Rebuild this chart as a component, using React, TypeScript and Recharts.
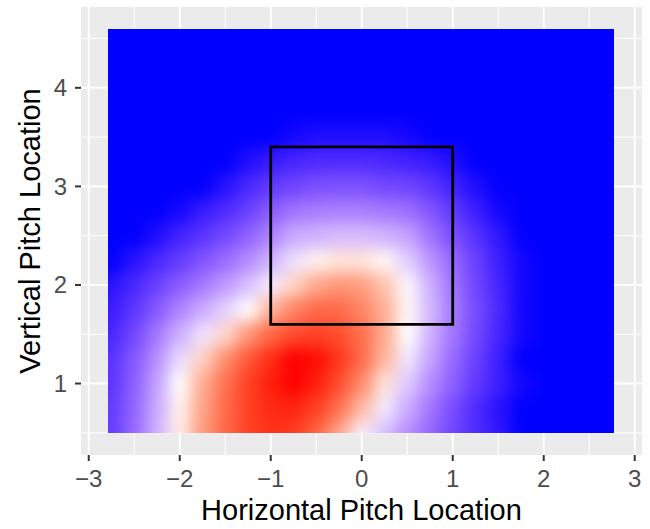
import React from "react";
import {
  ScatterChart,
  Scatter,
  XAxis,
  YAxis,
  CartesianGrid,
  ReferenceArea,
  Label,
} from "recharts";

// raster cell centres (feet)
const xCols = [
  -2.75, -2.5, -2.25, -2, -1.75, -1.5, -1.25, -1, -0.75, -0.5, -0.25, 0, 0.25,
  0.5, 0.75, 1, 1.25, 1.5, 1.75, 2, 2.25, 2.5, 2.75,
];
const yRows = [
  4.5, 4.25, 4, 3.75, 3.5, 3.25, 3, 2.75, 2.5, 2.25, 2, 1.75, 1.5, 1.25, 1,
  0.75, 0.5,
];
const rasterX = [-2.79, 2.775];
const rasterY = [0.495, 4.595];
const halfCell = 0.125;

// fill level per cell, -1 = blue, 0 = white, 1 = red (rows top to bottom)
const levels: number[][] = [
  [-1, -1, -1, -1, -1, -1, -1, -1, -1, -1, -1, -1, -1, -1, -1, -1, -1, -1, -1, -1, -1, -1, -1],
  [-1, -1, -1, -1, -1, -1, -1, -1, -1, -1, -1, -1, -1, -1, -1, -1, -1, -1, -1, -1, -1, -1, -1],
  [-1, -1, -1, -1, -1, -1, -1, -1, -1, -1, -1, -1, -1, -1, -1, -1, -1, -1, -1, -1, -1, -1, -1],
  [-1, -1, -1, -1, -1, -1, -1, -1, -1, -1, -1, -1, -1, -1, -1, -1, -1, -1, -1, -1, -1, -1, -1],
  [-1, -1, -1, -1, -1, -1, -1, -1, -0.99, -0.98, -0.98, -0.98, -0.98, -0.99, -1, -1, -1, -1, -1, -1, -1, -1, -1],
  [-1, -1, -1, -1, -1, -1, -0.98, -0.95, -0.92, -0.9, -0.9, -0.9, -0.91, -0.93, -0.95, -0.98, -1, -1, -1, -1, -1, -1, -1],
  [-1, -1, -1, -1, -1, -0.97, -0.91, -0.85, -0.8, -0.76, -0.75, -0.75, -0.79, -0.8, -0.86, -0.93, -0.98, -1, -1, -1, -1, -1, -1],
  [-1, -1, -1, -0.99, -0.95, -0.9, -0.82, -0.7, -0.6, -0.56, -0.55, -0.55, -0.58, -0.62, -0.73, -0.85, -0.94, -0.99, -1, -1, -1, -1, -1],
  [-1, -1, -0.98, -0.93, -0.87, -0.79, -0.68, -0.54, -0.37, -0.33, -0.29, -0.29, -0.33, -0.4, -0.6, -0.76, -0.88, -0.96, -1, -1, -1, -1, -1],
  [-1, -0.97, -0.91, -0.84, -0.74, -0.63, -0.5, -0.33, -0.13, 0.07, 0.14, 0.14, 0.04, -0.21, -0.45, -0.65, -0.82, -0.94, -0.99, -1, -1, -1, -1],
  [-0.97, -0.91, -0.82, -0.7, -0.58, -0.43, -0.27, -0.08, 0.23, 0.45, 0.54, 0.5, 0.31, -0.03, -0.34, -0.6, -0.8, -0.92, -0.99, -1, -1, -1, -1],
  [-0.95, -0.86, -0.72, -0.53, -0.36, -0.19, 0, 0.39, 0.62, 0.74, 0.74, 0.62, 0.41, 0.04, -0.3, -0.57, -0.77, -0.91, -0.99, -1, -1, -1, -1],
  [-0.92, -0.79, -0.58, -0.34, -0.12, 0.21, 0.54, 0.75, 0.86, 0.89, 0.85, 0.72, 0.44, 0, -0.33, -0.59, -0.79, -0.92, -0.99, -1, -1, -1, -1],
  [-0.88, -0.72, -0.48, -0.15, 0.23, 0.58, 0.81, 0.94, 1, 0.99, 0.92, 0.74, 0.38, -0.1, -0.39, -0.64, -0.82, -0.94, -1, -1, -1, -1, -1],
  [-0.87, -0.69, -0.4, 0, 0.43, 0.71, 0.89, 0.97, 1, 0.97, 0.85, 0.59, 0.15, -0.23, -0.49, -0.69, -0.85, -0.94, -0.99, -1, -1, -1, -1],
  [-0.85, -0.66, -0.36, 0.07, 0.47, 0.74, 0.89, 0.95, 0.96, 0.89, 0.71, 0.36, -0.09, -0.36, -0.59, -0.77, -0.9, -0.97, -1, -1, -1, -1, -1],
  [-0.84, -0.64, -0.33, 0.1, 0.51, 0.75, 0.89, 0.93, 0.9, 0.75, 0.43, -0.05, -0.29, -0.49, -0.66, -0.8, -0.9, -0.96, -1, -1, -1, -1, -1],
];

// strike zone outline, walked round from the bottom edge
const zonePath = [
  { x: 0, y: 1.6 },
  { x: 1, y: 1.6 },
  { x: 1, y: 3.4 },
  { x: -1, y: 3.4 },
  { x: -1, y: 1.6 },
  { x: 0, y: 1.6 },
];

const xTicks = [-3, -2, -1, 0, 1, 2, 3];
const xMinor = [-2.5, -1.5, -0.5, 0.5, 1.5, 2.5];
const yTicks = [1, 2, 3, 4];
const yMinor = [0.5, 1.5, 2.5, 3.5, 4.5];

const font = "'Liberation Sans', Arial, Helvetica, sans-serif";

// blue - white - red, interpolated in Lab like ggplot's gradient2
const LAB_WHITE = [100, 0, 0];
const LAB_BLUE = [32.3, 79.19, -107.86];
const LAB_RED = [53.24, 80.09, 67.2];

function labToHex(L: number, a: number, b: number) {
  const fy = (L + 16) / 116;
  const fx = fy + a / 500;
  const fz = fy - b / 200;
  const inv = (t: number) => (t * t * t > 0.008856 ? t * t * t : (t - 16 / 116) / 7.787);
  const X = 0.95047 * inv(fx);
  const Y = inv(fy);
  const Z = 1.08883 * inv(fz);
  const lin = [
    3.2406 * X - 1.5372 * Y - 0.4986 * Z,
    -0.9689 * X + 1.8758 * Y + 0.0415 * Z,
    0.0557 * X - 0.204 * Y + 1.057 * Z,
  ];
  return (
    "#" +
    lin
      .map((c) => {
        const s = c <= 0.0031308 ? 12.92 * c : 1.055 * Math.pow(Math.max(c, 0), 1 / 2.4) - 0.055;
        const v = Math.round(Math.min(1, Math.max(0, s)) * 255);
        return v.toString(16).padStart(2, "0");
      })
      .join("")
  );
}

function levelColor(v: number) {
  const end = v >= 0 ? LAB_RED : LAB_BLUE;
  const t = Math.min(1, Math.abs(v));
  return labToHex(
    LAB_WHITE[0] + (end[0] - LAB_WHITE[0]) * t,
    LAB_WHITE[1] + (end[1] - LAB_WHITE[1]) * t,
    LAB_WHITE[2] + (end[2] - LAB_WHITE[2]) * t
  );
}

const fmt = (v: number) => (v < 0 ? "\u2212" + Math.abs(v) : String(v));

// the cells are coarse, so soften them into a continuous raster
const css = `
.heat-wrap, g:has(> .recharts-reference-area .heat-cell) { filter: url(#rasterSmooth); }
`;

export default function App() {
  const cells: { key: string; x1: number; x2: number; y1: number; y2: number; fill: string }[] = [];
  yRows.forEach((y, r) => {
    xCols.forEach((x, c) => {
      cells.push({
        key: `${r}-${c}`,
        x1: Math.max(x - halfCell, rasterX[0]),
        x2: Math.min(x + halfCell, rasterX[1]),
        y1: Math.max(y - halfCell, rasterY[0]),
        y2: Math.min(y + halfCell, rasterY[1]),
        fill: levelColor(levels[r][c]),
      });
    });
  });

  return (
    <div style={{ position: "absolute", left: 0, top: 0, background: "#fff" }}>
      <style>{css}</style>
      <svg width={0} height={0} style={{ position: "absolute" }}>
        <defs>
          <filter
            id="rasterSmooth"
            x="-5%"
            y="-5%"
            width="110%"
            height="110%"
            colorInterpolationFilters="sRGB"
          >
            <feGaussianBlur in="SourceGraphic" stdDeviation="8" result="soft" />
            {/* undo the fade towards the edges, then trim back to the raster */}
            <feComponentTransfer in="soft" result="opaque">
              <feFuncA type="table" tableValues="1 1" />
            </feComponentTransfer>
            <feComposite in="opaque" in2="SourceGraphic" operator="in" />
          </filter>
        </defs>
      </svg>
      <ScatterChart
        width={650}
        height={529}
        margin={{ top: 7, right: 8, bottom: 0, left: 0 }}
      >
        <CartesianGrid
          fill="#EBEBEB"
          stroke="#FFFFFF"
          strokeWidth={1}
          horizontalValues={yMinor}
          verticalValues={xMinor}
        />
        <CartesianGrid
          stroke="#FFFFFF"
          strokeWidth={2}
          horizontalValues={yTicks}
          verticalValues={xTicks}
        />
        <XAxis
          type="number"
          dataKey="x"
          domain={[-3.085, 3.08]}
          allowDataOverflow
          ticks={xTicks}
          tickFormatter={fmt}
          height={74}
          tickSize={6}
          tickMargin={9}
          axisLine={false}
          tickLine={{ stroke: "#333333", strokeWidth: 2 }}
          tick={{ fill: "#4D4D4D", fontSize: 24, fontFamily: font }}
        >
          <Label
            value="Horizontal Pitch Location"
            position="insideBottom"
            offset={9}
            fill="#000000"
            fontSize={29}
            fontFamily={font}
          />
        </XAxis>
        <YAxis
          type="number"
          dataKey="y"
          domain={[0.275, 4.82]}
          allowDataOverflow
          ticks={yTicks}
          width={81}
          tickSize={6}
          tickMargin={8}
          axisLine={false}
          tickLine={{ stroke: "#333333", strokeWidth: 2 }}
          tick={{ fill: "#4D4D4D", fontSize: 24, fontFamily: font }}
        >
          <Label
            content={({ viewBox }: any) => {
              const cx = viewBox.x + 40;
              const cy = viewBox.y + viewBox.height / 2;
              return (
                <text
                  x={cx}
                  y={cy}
                  transform={`rotate(-90 ${cx} ${cy})`}
                  textAnchor="middle"
                  fill="#000000"
                  fontSize={29}
                  fontFamily={font}
                >
                  Vertical Pitch Location
                </text>
              );
            }}
          />
        </YAxis>
        <g className="heat-wrap">
          {cells.map((c) => (
            <ReferenceArea
              key={c.key}
              x1={c.x1}
              x2={c.x2}
              y1={c.y1}
              y2={c.y2}
              fill={c.fill}
              fillOpacity={1}
              stroke="none"
              ifOverflow="visible"
              shape={(p: any) => (
                <rect
                  className="heat-cell"
                  x={p.x}
                  y={p.y}
                  width={p.width}
                  height={p.height}
                  fill={p.fill}
                  shapeRendering="crispEdges"
                />
              )}
            />
          ))}
        </g>
        <Scatter
          data={zonePath}
          line={{ stroke: "#000000", strokeWidth: 2.8, strokeLinejoin: "miter" }}
          lineType="joint"
          shape={() => <g />}
          isAnimationActive={false}
        />
      </ScatterChart>
    </div>
  );
}
